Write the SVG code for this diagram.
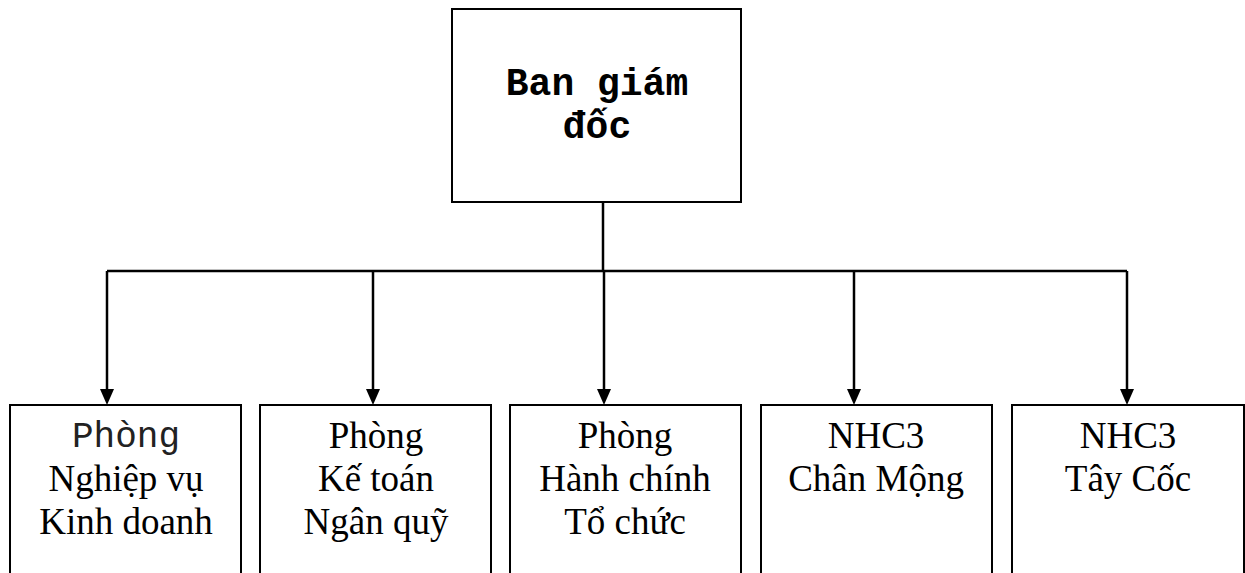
<svg xmlns="http://www.w3.org/2000/svg" width="1245" height="573" viewBox="0 0 1245 573">
<style>
.box{fill:#fff;stroke:#000;stroke-width:2}
.ln{stroke:#000;stroke-width:2.5;fill:none}
.t{font-family:"Liberation Serif","Times New Roman",serif;font-size:37px;text-anchor:middle;fill:#000}
.m{font-family:"Liberation Mono","Courier New",monospace;font-size:36px;text-anchor:middle;fill:#222}
.mb{font-family:"Liberation Mono","Courier New",monospace;font-size:38px;font-weight:bold;text-anchor:middle;fill:#000}
</style>
<rect width="1245" height="573" fill="#fff"/>
<g id="connectors">
<line class="ln" x1="603" y1="202" x2="603" y2="271"/>
<line class="ln" x1="107" y1="271" x2="1127" y2="271"/>
<path class="ln" d="M107,271 V390"/>
<path class="ln" d="M373,271 V390"/>
<path class="ln" d="M604,271 V390"/>
<path class="ln" d="M854,271 V390"/>
<path class="ln" d="M1127,271 V390"/>
<path d="M100,389 L114,389 L107,405 Z"/>
<path d="M366,389 L380,389 L373,405 Z"/>
<path d="M597,389 L611,389 L604,405 Z"/>
<path d="M847,389 L861,389 L854,405 Z"/>
<path d="M1120,389 L1134,389 L1127,405 Z"/>
</g>
<g id="ban-giam-doc">
<rect class="box" x="452" y="9" width="289" height="193"/>
<text class="mb" x="597" y="95">Ban giám</text>
<text class="mb" x="597" y="138">đốc</text>
</g>
<g id="phong-nghiep-vu">
<rect class="box" x="10" y="405" width="231" height="190"/>
<text class="m" x="126" y="447">Phòng</text>
<text class="t" x="126" y="491">Nghiệp vụ</text>
<text class="t" x="126" y="534">Kinh doanh</text>
</g>
<g id="phong-ke-toan">
<rect class="box" x="260" y="405" width="231" height="190"/>
<text class="t" x="376" y="448">Phòng</text>
<text class="t" x="376" y="491">Kế toán</text>
<text class="t" x="376" y="534">Ngân quỹ</text>
</g>
<g id="phong-hanh-chinh">
<rect class="box" x="510" y="405" width="231" height="190"/>
<text class="t" x="625" y="448">Phòng</text>
<text class="t" x="625" y="491">Hành chính</text>
<text class="t" x="625" y="534">Tổ chức</text>
</g>
<g id="nhc3-chan-mong">
<rect class="box" x="761" y="405" width="231" height="190"/>
<text class="t" x="876" y="448">NHC3</text>
<text class="t" x="876" y="491">Chân Mộng</text>
</g>
<g id="nhc3-tay-coc">
<rect class="box" x="1012" y="405" width="232" height="190"/>
<text class="t" x="1128" y="448">NHC3</text>
<text class="t" x="1128" y="491">Tây Cốc</text>
</g>
</svg>
